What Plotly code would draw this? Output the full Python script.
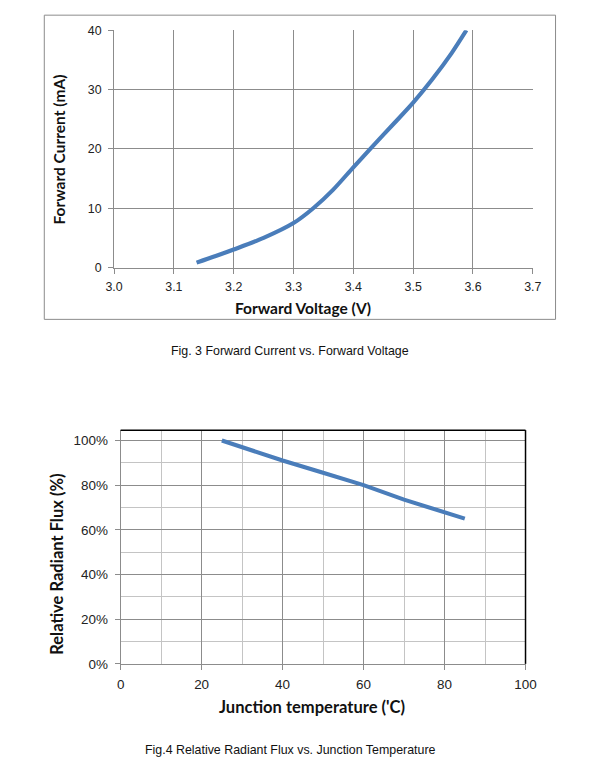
import plotly.graph_objects as go

# Fig. 3 data
voltage = [3.138, 3.17, 3.20, 3.25, 3.30, 3.333, 3.366, 3.40, 3.431, 3.469, 3.50, 3.531, 3.564, 3.589]
current = [0.84, 1.95, 3.05, 5.0, 7.5, 10.0, 13.1, 16.9, 20.3, 24.4, 27.8, 31.6, 36.1, 40.0]

# Fig. 4 data
temperature = [25, 30, 40, 50, 60, 70, 80, 85]
flux = [1.00, 0.97, 0.91, 0.855, 0.80, 0.735, 0.68, 0.65]

# page geometry: body margin and observed screenshot scaling
OFF = 8
SX, SY = 0.967, 0.98
W = int(round(610 / SX)) - 2 * OFF
H = int(round(775 / SY)) - 2 * OFF
def px(x): return (x / SX - OFF) / W
def py(y): return 1 - (y / SY - OFF) / H
FS = 1 / SX

line_color = "#4a7dba"
grid_major = "#8c8c8c"
grid_minor = "#c4c4c4"
tick_font = dict(family="Liberation Sans, Arial", size=12 * FS, color="#222")
tick_font2 = dict(family="Liberation Sans, Arial", size=13 * FS, color="#222")
title_font = dict(family="Lato, Open Sans", size=15 * FS, color="#111")
title_font2 = dict(family="Lato, Open Sans", size=16 * FS, color="#111")
cap_font = dict(family="Liberation Sans, Arial", size=12 * FS, color="#111")

fig = go.Figure()
fig.add_trace(go.Scatter(x=voltage, y=current, mode="lines",
                         line=dict(color=line_color, width=4 * FS, shape="spline", smoothing=0.8),
                         xaxis="x", yaxis="y", showlegend=False))
fig.add_trace(go.Scatter(x=temperature, y=flux, mode="lines",
                         line=dict(color=line_color, width=4 * FS),
                         xaxis="x2", yaxis="y2", showlegend=False))

fig.update_layout(
    width=W, height=H,
    margin=dict(l=0, r=0, t=0, b=0),
    paper_bgcolor="white", plot_bgcolor="white",
    xaxis=dict(domain=[px(112.7), px(531.3)], anchor="y", range=[3.0, 3.7],
               dtick=0.1, tick0=3.0, tickformat=".1f",
               showgrid=True, gridcolor=grid_major, gridwidth=1,
               showline=True, linecolor=grid_major, linewidth=1,
               ticks="outside", ticklen=5, tickcolor=grid_major,
               tickfont=tick_font, zeroline=False, ticklabelstandoff=2),
    yaxis=dict(domain=[py(268.3), py(31)], anchor="x", range=[0, 40],
               dtick=10, showgrid=True, gridcolor=grid_major, gridwidth=1,
               showline=True, linecolor=grid_major, linewidth=1,
               ticks="outside", ticklen=5, tickcolor=grid_major,
               tickfont=tick_font, zeroline=False, ticklabelstandoff=4),
    xaxis2=dict(domain=[px(119.3), px(524)], anchor="y2", range=[0, 100],
                dtick=20, showgrid=True, gridcolor=grid_major, gridwidth=1,
                minor=dict(dtick=10, showgrid=True, gridcolor=grid_minor),
                showline=True, linecolor=grid_major, linewidth=1,
                ticks="outside", ticklen=5, tickcolor=grid_major,
                tickfont=tick_font2, zeroline=False, ticklabelstandoff=3),
    yaxis2=dict(domain=[py(664.3), py(430.7)], anchor="x2", range=[0, 1.046],
                dtick=0.2, tickformat=".0%", showgrid=True, gridcolor=grid_major, gridwidth=1,
                minor=dict(dtick=0.1, showgrid=True, gridcolor=grid_minor),
                showline=True, linecolor=grid_major, linewidth=1,
                ticks="outside", ticklen=5, tickcolor=grid_major,
                tickfont=tick_font2, zeroline=False, ticklabelstandoff=4),
    shapes=[
        dict(type="rect", xref="paper", yref="paper",
             x0=px(43), x1=px(554), y0=py(320), y1=py(16),
             line=dict(color="#8c8c8c", width=1), fillcolor="rgba(0,0,0,0)", layer="below"),
        dict(type="line", xref="x2 domain", yref="y2 domain", x0=0, x1=1, y0=1, y1=1,
             line=dict(color="black", width=1.5)),
        dict(type="line", xref="x2 domain", yref="y2 domain", x0=1, x1=1, y0=0, y1=1,
             line=dict(color="black", width=1.5)),
    ],
    annotations=[
        dict(text="<b>Forward Current (mA)</b>", xref="paper", yref="paper",
             x=px(58), y=py(150), textangle=-90, showarrow=False,
             font=title_font, xanchor="center", yanchor="middle"),
        dict(text="<b>Forward Voltage (V)</b>", xref="paper", yref="paper",
             x=px(302), y=py(309), showarrow=False,
             font=title_font, xanchor="center", yanchor="middle"),
        dict(text="Fig. 3 Forward Current vs. Forward Voltage", xref="paper", yref="paper",
             x=px(289), y=py(352), showarrow=False,
             font=cap_font, xanchor="center", yanchor="middle"),
        dict(text="<b>Relative Radiant Flux (%)</b>", xref="paper", yref="paper",
             x=px(55), y=py(565), textangle=-90, showarrow=False,
             font=title_font2, xanchor="center", yanchor="middle"),
        dict(text="<b>Junction temperature ('C)</b>", xref="paper", yref="paper",
             x=px(311), y=py(707), showarrow=False,
             font=title_font2, xanchor="center", yanchor="middle"),
        dict(text="Fig.4 Relative Radiant Flux vs. Junction Temperature", xref="paper", yref="paper",
             x=px(289), y=py(750), showarrow=False,
             font=cap_font, xanchor="center", yanchor="middle"),
    ],
)

fig.write_html("out.html")
